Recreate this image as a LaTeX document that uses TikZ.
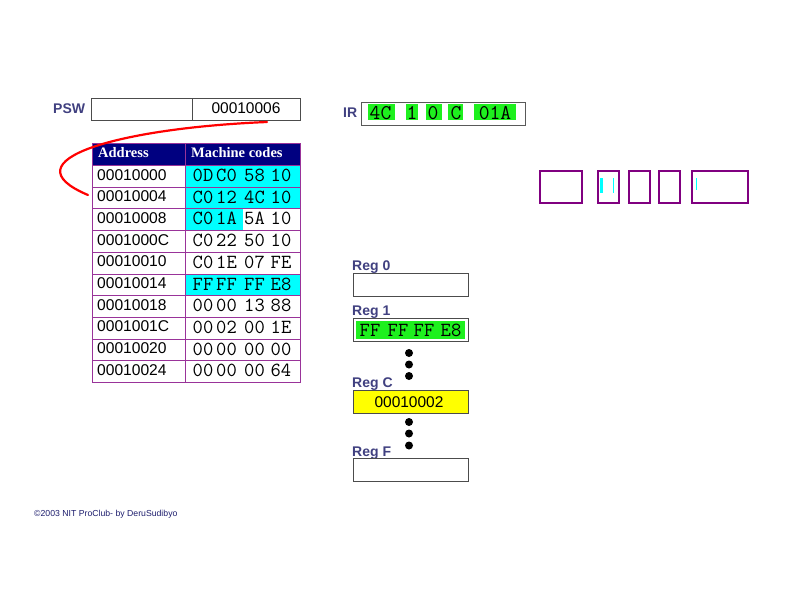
\documentclass[tikz,border=0pt]{standalone}
\usepackage{fontspec}
\setmainfont{Liberation Sans}
\newfontfamily\serifbold{Liberation Serif}
\definecolor{lblcol}{RGB}{64,64,128}
\definecolor{navy}{RGB}{0,0,128}
\definecolor{tblpurple}{RGB}{153,51,153}
\definecolor{boxpurple}{RGB}{128,0,128}
\definecolor{brightgreen}{RGB}{30,240,30}
\definecolor{cyanfill}{RGB}{0,255,255}
\definecolor{regyellow}{RGB}{255,255,0}
\definecolor{copycol}{RGB}{30,30,110}
\tikzset{
  lbl/.style={font=\fontsize{14}{14}\selectfont\bfseries, text=lblcol, anchor=base west, inner sep=0},
  regbox/.style={draw=gray!60!black, line width=0.8pt, minimum width=115pt, minimum height=23pt, anchor=north west, inner sep=0},
  cell/.style={draw=tblpurple, line width=0.9pt, minimum height=21.7pt, anchor=north west, inner sep=0},
  addrtxt/.style={font=\fontsize{15.6}{15.6}\selectfont, anchor=base west, inner sep=0},
  codetxt/.style={font=\ttfamily\fontsize{20}{20}\selectfont, anchor=base, inner sep=0},
  hdrtxt/.style={font=\serifbold\bfseries\fontsize{14.5}{14.5}\selectfont, text=white, anchor=base west, inner sep=0},
  dot/.style={circle, fill=black, minimum size=8pt, inner sep=0},
  pbox/.style={draw=boxpurple, line width=2pt, anchor=north west, inner sep=0},
  gbg/.style={fill=brightgreen, anchor=north west, inner sep=0},
}
\begin{document}
\begin{tikzpicture}[x=1pt,y=-1pt]
\useasboundingbox[fill=white] (0,0) rectangle (800,600);

% PSW
\node[lbl] (pswlbl) at (53,113) {PSW};
\node[draw=gray!60!black, line width=0.8pt, minimum width=209pt, minimum height=22pt, anchor=north west, inner sep=0] (psw) at (91,98) {};
\draw[gray!60!black, line width=0.8pt] (192,98) -- (192,120);
\node[font=\fontsize{15.5}{15.5}\selectfont, anchor=base, inner sep=0] (pswval) at (246,113) {00010006};

% IR
\node[lbl] (irlbl) at (343,117) {IR};
\node[draw=gray!70!black, line width=1.2pt, minimum width=164pt, minimum height=23pt, anchor=north west, inner sep=0] (ir) at (361,102) {};
\node[gbg, minimum width=27pt, minimum height=16pt] (g1) at (368,104) {};
\node[gbg, minimum width=12pt, minimum height=16pt] (g2) at (406,104) {};
\node[gbg, minimum width=16pt, minimum height=16pt] (g3) at (426,104) {};
\node[gbg, minimum width=15pt, minimum height=16pt] (g4) at (448,104) {};
\node[gbg, minimum width=42pt, minimum height=16pt] (g5) at (474,104) {};
\node[codetxt, font=\ttfamily\fontsize{21}{21}\selectfont] (ir1) at (380.5,119) {4C};
\node[codetxt, font=\ttfamily\fontsize{21}{21}\selectfont] (ir2) at (412,119) {1};
\node[codetxt, font=\ttfamily\fontsize{21}{21}\selectfont] (ir3) at (433,119) {0};
\node[codetxt, font=\ttfamily\fontsize{21}{21}\selectfont] (ir4) at (456,119) {C};
\node[codetxt, font=\ttfamily\fontsize{21}{21}\selectfont] (ir5) at (495,119) {01A};

% Table
\fill[cyanfill] (185,208.4) rectangle (243,230.1);
\node[cell, fill=navy, minimum width=93pt, minimum height=22pt] (h1) at (92,143) {};
\node[cell, fill=navy, minimum width=115pt, minimum height=22pt] (h2) at (185,143) {};
\node[hdrtxt] (h1t) at (98,157) {Address};
\node[hdrtxt] (h2t) at (191,157) {Machine codes};
\foreach \i/\addr/\a/\b/\c/\d/\f in {
  0/00010000/0D/C0/58/10/cyanfill,
  1/00010004/C0/12/4C/10/cyanfill,
  2/00010008/C0/1A/5A/10/none,
  3/0001000C/C0/22/50/10/none,
  4/00010010/C0/1E/07/FE/none,
  5/00010014/FF/FF/FF/E8/cyanfill,
  6/00010018/00/00/13/88/none,
  7/0001001C/00/02/00/1E/none,
  8/00010020/00/00/00/00/none,
  9/00010024/00/00/00/64/none}{
  \pgfmathsetmacro\yt{165+21.7*\i}
  \pgfmathsetmacro\yb{165+21.7*\i+16.5}
  \node[cell, minimum width=93pt] (a\i) at (92,\yt) {};
  \node[cell, minimum width=115pt, fill=\f] (c\i) at (185,\yt) {};
  \node[addrtxt] (at\i) at (97,\yb-1.5) {\addr};
  \node[codetxt] (ca\i) at (203,\yb) {\a};
  \node[codetxt] (cb\i) at (226.5,\yb) {\b};
  \node[codetxt] (cc\i) at (254.5,\yb) {\c};
  \node[codetxt] (cd\i) at (281,\yb) {\d};
}

% red curve
\coordinate (cstart) at (267,122);
\coordinate (cend) at (88,195);
\draw[red, line width=2.2pt, line cap=round] (cstart) .. controls (120,128) and (5,160) .. (cend);

% right boxes
\node[pbox, minimum width=42pt, minimum height=32pt] (b1) at (539,170) {};
\node[pbox, minimum width=21pt, minimum height=32pt] (b2) at (597,170) {};
\node[pbox, minimum width=21pt, minimum height=32pt] (b3) at (628,170) {};
\node[pbox, minimum width=21pt, minimum height=32pt] (b4) at (658,170) {};
\node[pbox, minimum width=56pt, minimum height=32pt] (b5) at (691,170) {};
\fill[cyanfill] (600,178) rectangle (603,193);
\fill[cyanfill] (612.5,178) rectangle (614,193);
\fill[cyanfill] (695.5,178) rectangle (697,190);

% registers
\node[lbl] (r0l) at (352,270) {Reg 0};
\node[regbox] (r0) at (353,273) {};
\node[lbl] (r1l) at (352,315) {Reg 1};
\node[regbox] (r1) at (353,318) {};
\node[gbg, minimum width=109pt, minimum height=18pt] (r1g) at (356,321) {};
\node[codetxt] (r1a) at (370,336) {FF};
\node[codetxt] (r1b) at (398,336) {FF};
\node[codetxt] (r1c) at (424,336) {FF};
\node[codetxt] (r1d) at (451,336) {E8};
\node[dot] (d1) at (409,353) {};
\node[dot] (d2) at (409,364.5) {};
\node[dot] (d3) at (409,376) {};
\node[lbl] (rcl) at (352,387) {Reg C};
\node[regbox, fill=regyellow] (rc) at (353,389.5) {};
\node[font=\fontsize{15.5}{15.5}\selectfont, anchor=base, inner sep=0] (rcv) at (409,407) {00010002};
\node[dot] (d4) at (409,422) {};
\node[dot] (d5) at (409,433.5) {};
\node[dot] (d6) at (409,445.5) {};
\node[lbl] (rfl) at (352,456) {Reg F};
\node[regbox] (rf) at (353,458) {};

% copyright
\node[font=\fontsize{8.7}{8.7}\selectfont, text=copycol, anchor=base west, inner sep=0] (copy) at (34,516) {©2003 NIT ProClub- by DeruSudibyo};
\end{tikzpicture}
\end{document}
